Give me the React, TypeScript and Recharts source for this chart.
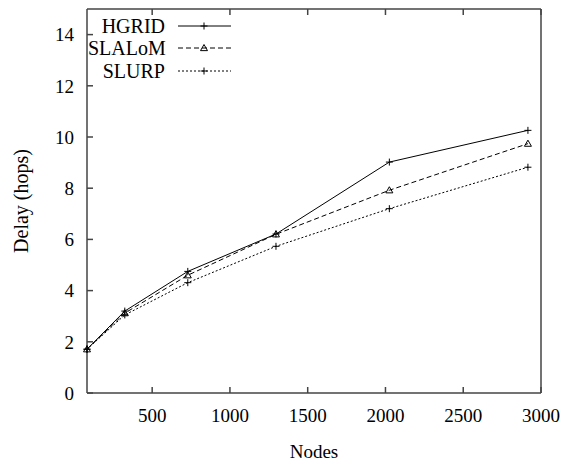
import { LineChart, Line, XAxis, YAxis, Legend } from "recharts";

// node counts (9², 18², 27², ... 54²)
const NODES = [81, 324, 729, 1296, 2025, 2916];
const HGRID = [1.71, 3.2, 4.75, 6.21, 9.02, 10.26];
const SLALOM = [1.71, 3.12, 4.6, 6.2, 7.92, 9.74];
const SLURP = [1.71, 3.05, 4.31, 5.73, 7.2, 8.82];

const X_TICKS = [500, 1000, 1500, 2000, 2500, 3000];
const Y_TICKS = [0, 2, 4, 6, 8, 10, 12, 14];

const SERIES = [
  { key: "hgrid", name: "HGRID", dash: undefined as string | undefined, marker: "plus" },
  { key: "slalom", name: "SLALoM", dash: "5 3", marker: "triangle" },
  { key: "slurp", name: "SLURP", dash: "2 2", marker: "plus" },
];

const data = NODES.map((n, i) => ({
  nodes: n,
  hgrid: HGRID[i],
  slalom: SLALOM[i],
  slurp: SLURP[i],
}));

const FONT = "Liberation Serif";
const AXIS = "#444";

function Marker({ cx, cy, type }: { cx: number; cy: number; type: string }) {
  if (type === "triangle") {
    const r = 3.5;
    return (
      <polygon
        points={`${cx},${cy - r} ${cx - r},${cy + r * 0.75} ${cx + r},${cy + r * 0.75}`}
        fill="none"
        stroke="#000"
        strokeWidth={1}
      />
    );
  }
  return (
    <g stroke="#000" strokeWidth={1}>
      <line x1={cx - 3.5} x2={cx + 3.5} y1={cy} y2={cy} />
      <line x1={cx} x2={cx} y1={cy - 3.5} y2={cy + 3.5} />
    </g>
  );
}

const dotFor = (type: string) => (p: any) => {
  if (p.cx == null || p.cy == null) return <g key={`d-${p.index}`} />;
  return (
    <g key={`d-${type}-${p.index}`}>
      <Marker cx={p.cx} cy={p.cy} type={type} />
    </g>
  );
};

function LegendBox() {
  return (
    <div style={{ fontFamily: FONT, fontSize: 20, color: "#000" }}>
      {SERIES.map((s) => (
        <div key={s.key} style={{ display: "flex", alignItems: "center", height: 22.5 }}>
          <span style={{ width: 77, textAlign: "right", lineHeight: "22.5px" }}>{s.name}</span>
          <svg width={54} height={12} style={{ marginLeft: 13 }}>
            <line x1={0} x2={53} y1={6} y2={6} stroke="#000" strokeWidth={1} strokeDasharray={s.dash} />
            <Marker cx={26} cy={6} type={s.marker} />
          </svg>
        </div>
      ))}
    </div>
  );
}

function YTitle({ viewBox }: any) {
  const cx = viewBox.x + 21;
  const cy = viewBox.y + viewBox.height / 2;
  return (
    <text
      x={cx}
      y={cy}
      transform={`rotate(-90, ${cx}, ${cy})`}
      textAnchor="middle"
      dominantBaseline="central"
      fontSize={20}
      fontFamily={FONT}
      fill="#000"
    >
      Delay (hops)
    </text>
  );
}

const hiddenTick = () => <g />;
const tickStyle = { fontSize: 19, fill: "#000", fontFamily: FONT };

export default function App() {
  return (
    <div style={{ position: "absolute", left: 0, top: 0, width: 568, height: 461, background: "#fff", fontFamily: FONT }}>
      <LineChart width={568} height={461} data={data} margin={{ top: 9, right: 27, left: 0, bottom: 0 }}>
        <XAxis
          dataKey="nodes"
          type="number"
          domain={[81, 3000]}
          ticks={X_TICKS}
          interval={0}
          height={68}
          tickSize={-6}
          tickMargin={22}
          stroke={AXIS}
          strokeWidth={1.5}
          tick={tickStyle}
          label={{ value: "Nodes", position: "insideBottom", offset: 3, fontSize: 19, fill: "#000", fontFamily: FONT }}
        />
        <XAxis
          xAxisId="top"
          orientation="top"
          mirror
          dataKey="nodes"
          type="number"
          domain={[81, 3000]}
          ticks={X_TICKS}
          interval={0}
          tickSize={6}
          stroke={AXIS}
          strokeWidth={1.5}
          tick={hiddenTick}
        />
        <YAxis
          type="number"
          domain={[0, 15]}
          ticks={Y_TICKS}
          interval={0}
          width={87}
          tickSize={-6}
          tickMargin={19}
          stroke={AXIS}
          strokeWidth={1.5}
          tick={tickStyle}
          label={<YTitle />}
        />
        <YAxis
          yAxisId="right"
          orientation="right"
          mirror
          type="number"
          domain={[0, 15]}
          ticks={Y_TICKS}
          interval={0}
          tickSize={6}
          stroke={AXIS}
          strokeWidth={1.5}
          tick={hiddenTick}
        />
        <Legend
          layout="vertical"
          align="center"
          verticalAlign="middle"
          wrapperStyle={{ top: 14.5, left: 88, width: "auto" }}
          content={() => <LegendBox />}
        />
        {SERIES.map((s) => (
          <Line
            key={s.key}
            dataKey={s.key}
            name={s.name}
            type="linear"
            stroke="#000"
            strokeWidth={1}
            strokeDasharray={s.dash}
            dot={dotFor(s.marker)}
            activeDot={false}
            isAnimationActive={false}
          />
        ))}
      </LineChart>
    </div>
  );
}
